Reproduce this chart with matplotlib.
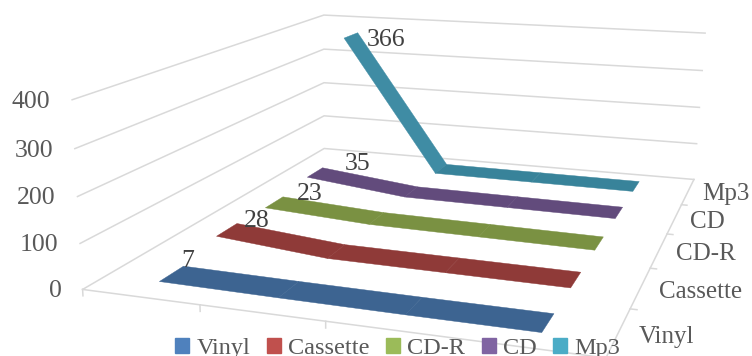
import numpy as np
import matplotlib
matplotlib.use("Agg")
import matplotlib.pyplot as plt
from matplotlib.patches import Patch
from mpl_toolkits.mplot3d.art3d import Poly3DCollection

plt.rcParams['font.family'] = ['Liberation Serif']

W, H = 752, 356

formats = ["Vinyl", "Cassette", "CD-R", "CD", "Mp3"]
vinyl = [7, 4, 2, 1]
cassette = [28, 5, 3, 1]
cd_r = [23, 8, 5, 2]
cd = [35, 6, 4, 2]
mp3 = [366, 4, 3, 2]
series = [vinyl, cassette, cd_r, cd, mp3]
value_ticks = [0, 100, 200, 300, 400]

legend_colors = ["#4f81bd", "#c0504d", "#9bbb59", "#8064a2", "#4bacc6"]
ribbon_colors = ["#3d6491", "#8f3a38", "#7a9142", "#624b7c", "#38839a"]
steep_color = "#3f8ca4"

# camera: where known floor and wall points land on the canvas (pixels, y down)
world = np.array([
    [0, 0, 0], [0, 5, 0], [4, 5, 0], [4, 0, 0],
    [0, 0, 400], [0, 5, 400], [4, 5, 400],
    [1, 0, 0], [2, 0, 0],
    [4, 1, 0], [4, 2, 0], [4, 3, 0], [4, 4, 0],
], dtype=float)
screen = np.array([
    [83, 290], [324, 148], [692, 180], [604, 357],
    [72, 100], [324, 15], [705, 33],
    [200, 305], [325, 321],
    [631, 309], [651, 268], [668, 234], [683, 205],
], dtype=float)


def fit_camera(world, screen):
    rows, rhs = [], []
    for (x, y, z), (u, v) in zip(world, screen):
        z = z / 100
        v = H - v
        rows.append([x, y, z, 1, 0, 0, 0, 0, -u * x, -u * y, -u * z])
        rows.append([0, 0, 0, 0, x, y, z, 1, -v * x, -v * y, -v * z])
        rhs += [u, v]
    p = np.linalg.lstsq(np.array(rows), np.array(rhs), rcond=None)[0]
    cam = np.append(p, 1).reshape(3, 4)
    cam[:, 2] /= 100
    return cam


camera = fit_camera(world, screen)

fig = plt.figure(figsize=(W / 100, H / 100), dpi=100)
ax = fig.add_axes([0, 0, 1, 1], projection='3d', computed_zorder=False)
ax.set_axis_off()


def get_proj():
    to_data = ax.transData.inverted().get_matrix()
    p = to_data @ camera
    # Line3D drops points with projected z above 0, so depth runs negative
    return np.array([p[0], p[1], [0, -0.02, 0, 0], p[2]])


ax.get_proj = get_proj

grid_color = "#d9d9d9"
for v in value_ticks:
    ax.plot([0, 0, 4], [0, 5, 5], [v, v, v], color=grid_color, lw=1.1, clip_on=False, zorder=1)
ax.plot([0, 4, 4], [0, 0, 5], [0, 0, 0], color=grid_color, lw=1.1, clip_on=False, zorder=1)
for i in range(5):
    ax.plot([i, i], [0, 0], [0, -14], color=grid_color, lw=1.1, clip_on=False, zorder=1)
for i in range(1, 5):
    ax.plot([4, 4.05], [i, i], [0, 0], color=grid_color, lw=1.1, clip_on=False, zorder=1)

# ribbons, back row first so nearer rows sit on top
cats = np.arange(4) + 0.5
half = 0.2
for row in range(4, -1, -1):
    vals = series[row]
    y = row + 0.5
    quads = []
    colors = []
    for i in range(3):
        quads.append([
            (cats[i], y - half, vals[i]), (cats[i], y + half, vals[i]),
            (cats[i + 1], y + half, vals[i + 1]), (cats[i + 1], y - half, vals[i + 1]),
        ])
        # the long climb catches more light than the flat run
        colors.append(steep_color if vals[i] - vals[i + 1] > 100 else ribbon_colors[row])
    poly = Poly3DCollection(quads, facecolors=colors, edgecolors=colors,
                            linewidths=0.3, zorder=5 + (4 - row))
    ax.add_collection3d(poly, autolim=False)
    poly.set_clip_on(False)

# first-point labels
label_dx = [0.04, 0.19, 0.27, 0.37, 0.31]
label_dz = [13, 12, 15, 18, -16]
for row in range(5):
    ax.text(cats[0] + label_dx[row], row + 0.5 + half, series[row][0] + label_dz[row], str(series[row][0]),
            fontsize=18.5, color="#404040", ha='center', va='center', zorder=20)

for v in value_ticks:
    ax.text(-0.19, 0, v - 9, str(v), fontsize=18.5, color="#595959", ha='right', va='center', zorder=20)
for row, name in enumerate(formats):
    ax.text(4.14, row + 0.5, -4, name, fontsize=18, color="#595959", ha='left', va='center', zorder=20)

handles = [Patch(color=c, label=n) for c, n in zip(legend_colors, formats)]
leg = fig.legend(handles=handles, loc='lower center', bbox_to_anchor=(0.529, -0.008), ncol=5, frameon=False,
                 fontsize=17.5, handlelength=0.58, handleheight=0.58, handletextpad=0.3, columnspacing=0.67,
                 labelcolor="#595959", borderpad=0, borderaxespad=0)

fig.savefig("out.png", dpi=100)
